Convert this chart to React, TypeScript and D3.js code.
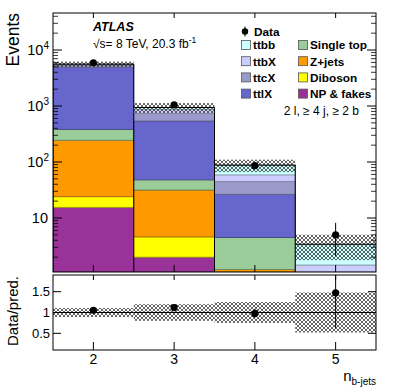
import * as d3 from 'd3';

// n_b-jets bins
const bins = [2, 3, 4, 5];

// stacked predictions, bottom to top
const npFakes = [15.5, 2.0, 0.5, 0.05];
const diboson = [8.5, 2.6, 0.3, 0.02];
const zJets = [221, 27, 0.4, 0.08];
const singleTop = [138, 16.4, 3.3, 0.25];
const ttlX = [4517, 492, 22, 0.45];
const ttcX = [500, 200, 18.5, 0.2];
const ttbX = [140, 130, 14, 0.4];
const ttbb = [60, 70, 29, 1.95];

// data and errors
const dataVals = [5900, 1050, 86, 5];
const dataErrUp = [77, 32, 9.3, 3.2];
const dataErrDown = [77, 32, 9.3, 2.9];
// relative uncertainty on the prediction (hatched band)
const relSyst = [0.11, 0.2, 0.25, 0.48];

const seriesKeys = ['NP & fakes', 'Diboson', 'Z+jets', 'Single top', 'ttlX', 'ttcX', 'ttbX', 'ttbb'];
const seriesVals = [npFakes, diboson, zJets, singleTop, ttlX, ttcX, ttbX, ttbb];
const seriesColors = ['#993399', '#ffff00', '#ff9900', '#99cc99', '#6666cc', '#9999cc', '#ccccff', '#ccffff'];

const legendCol1 = ['ttbb', 'ttbX', 'ttcX', 'ttlX'];
const legendCol2 = ['Single top', 'Z+jets', 'Diboson', 'NP & fakes'];

const mainTicks = [1, 2, 3, 4]; // exponents
const ratioTicks = [0.5, 1, 1.5];

const W = 407;
const H = 391;
const L = 53;
const R = 376;
const mainTop = 13;
const mainBot = 272;
const ratTop = 275;
const ratBot = 350;
const FONT = 'Liberation Sans, Arial, Helvetica, sans-serif';

const App = () => {
  const x = d3.scaleLinear().domain([1.5, 5.5]).range([L, R]);
  const y = d3.scaleLog().domain([1.086, 45800]).range([mainBot, mainTop]).clamp(true);
  const yr = d3.scaleLinear().domain([0.1, 1.9]).range([ratBot, ratTop]).clamp(true);

  const table = bins.map((b, i) => {
    const row: any = { bin: b };
    seriesKeys.forEach((k, j) => (row[k] = seriesVals[j][i]));
    return row;
  });
  const stacked = d3.stack().keys(seriesKeys)(table);
  const totals = bins.map((_, i) => d3.sum(seriesVals, (s) => s[i]));

  const bw = x(2.5) - x(1.5);
  const x0 = (b: number) => x(b - 0.5);

  // outline of the total
  const outline = d3.line<[number, number]>()
    .x((d) => d[0])
    .y((d) => d[1]);
  const outlinePts: [number, number][] = [];
  bins.forEach((b, i) => {
    outlinePts.push([x0(b), y(totals[i])]);
    outlinePts.push([x0(b) + bw, y(totals[i])]);
  });

  // minor ticks main panel
  const minor: number[] = [];
  for (let e = 0; e <= 4; e++) {
    for (let m = 2; m <= 9; m++) {
      const v = m * Math.pow(10, e);
      if (v > 1.086 && v < 45800) minor.push(v);
    }
  }

  const hatchBand = (lo: number[], hi: number[], sc: any) =>
    bins.map((b, i) => (
      <rect
        key={b}
        x={x0(b)}
        width={bw}
        y={sc(hi[i])}
        height={Math.max(0, sc(lo[i]) - sc(hi[i]))}
        fill="url(#xhatch)"
      />
    ));

  const ratio = bins.map((_, i) => dataVals[i] / totals[i]);

  return (
    <svg width={W} height={H} style={{ position: 'absolute', left: 0, top: 0, background: '#fff' }} fontFamily={FONT}>
      <defs>
        <pattern id="xhatch" width="4" height="4" patternUnits="userSpaceOnUse">
          <path d="M0,0L4,4M4,0L0,4" stroke="#333" strokeWidth="0.75" />
        </pattern>
        <clipPath id="mainClip">
          <rect x={L} y={mainTop} width={R - L} height={mainBot - mainTop} />
        </clipPath>
        <clipPath id="ratClip">
          <rect x={L} y={ratTop} width={R - L} height={ratBot - ratTop} />
        </clipPath>
      </defs>

      {/* main panel */}
      <g clipPath="url(#mainClip)">
        {stacked.map((s, j) => (
          <g key={s.key}>
            {s.map((d, i) => (
              <rect
                key={i}
                x={x0(bins[i])}
                width={bw}
                y={y(d[1])}
                height={Math.max(0, y(Math.max(d[0], 1e-3)) - y(d[1]))}
                fill={seriesColors[j]}
                stroke={d3.color(seriesColors[j])!.darker(1.3).formatHex()}
                strokeWidth={0.8}
              />
            ))}
          </g>
        ))}
        {hatchBand(
          totals.map((t, i) => t * (1 - relSyst[i])),
          totals.map((t, i) => t * (1 + relSyst[i])),
          y
        )}
        <path d={outline(outlinePts)!} fill="none" stroke="#000" strokeWidth={1} />
        {bins.map((b, i) => (
          <line key={b} x1={x0(b)} x2={x0(b)} y1={y(totals[i])} y2={mainBot} stroke="#000" strokeWidth={1} />
        ))}
        {bins.map((b, i) => (
          <g key={'d' + b}>
            <line
              x1={x(b)}
              x2={x(b)}
              y1={y(dataVals[i] + dataErrUp[i])}
              y2={y(dataVals[i] - dataErrDown[i])}
              stroke="#000"
              strokeWidth={1}
            />
            <circle cx={x(b)} cy={y(dataVals[i])} r={3.6} fill="#000" />
          </g>
        ))}
      </g>
      <rect x={L} y={mainTop} width={R - L} height={mainBot - mainTop} fill="none" stroke="#000" strokeWidth={1} />

      {/* main y ticks */}
      {mainTicks.map((e) => (
        <g key={e}>
          <line x1={L} x2={L + 9} y1={y(Math.pow(10, e))} y2={y(Math.pow(10, e))} stroke="#000" />
          <line x1={R} x2={R - 9} y1={y(Math.pow(10, e))} y2={y(Math.pow(10, e))} stroke="#000" />
          <text x={e === 1 ? 48 : 49} y={y(Math.pow(10, e)) + 5} textAnchor="end" fontSize={14.5}>
            10
            {e > 1 && (
              <tspan dy={-6} fontSize={10}>
                {e}
              </tspan>
            )}
          </text>
        </g>
      ))}
      {minor.map((v) => (
        <g key={v}>
          <line x1={L} x2={L + 5} y1={y(v)} y2={y(v)} stroke="#000" strokeWidth={0.8} />
          <line x1={R} x2={R - 5} y1={y(v)} y2={y(v)} stroke="#000" strokeWidth={0.8} />
        </g>
      ))}
      {bins.map((b) => (
        <g key={'xt' + b}>
          <line x1={x(b)} x2={x(b)} y1={mainBot} y2={mainBot - 7} stroke="#000" />
          <line x1={x(b)} x2={x(b)} y1={mainTop} y2={mainTop + 5} stroke="#000" />
        </g>
      ))}

      <text transform={`translate(19,${mainTop}) rotate(-90)`} textAnchor="end" fontSize={17.5}>
        Events
      </text>

      {/* labels */}
      <text x={93} y={31} fontSize={12.5} fontWeight="bold" fontStyle="italic">
        ATLAS
      </text>
      <text x={93} y={47.5} fontSize={12}>
        √s= 8 TeV, 20.3 fb
        <tspan dy={-5} fontSize={8.5}>
          -1
        </tspan>
      </text>

      {/* legend */}
      <g fontSize={11.8} fontWeight="bold">
        <line x1={245} x2={245} y1={26.5} y2={36.5} stroke="#000" />
        <circle cx={245} cy={31.5} r={3.2} fill="#000" />
        <text x={254} y={35.5}>
          Data
        </text>
        {legendCol1.map((lab, i) => {
          const j = seriesKeys.indexOf(lab);
          const cy = 45 + i * 16.2;
          return (
            <g key={lab}>
              <rect x={241.5} y={cy - 4.5} width={9} height={9} fill={seriesColors[j]} stroke="#555" strokeWidth={0.8} />
              <text x={253} y={cy + 4.3}>
                {lab}
              </text>
            </g>
          );
        })}
        {legendCol2.map((lab, i) => {
          const j = seriesKeys.indexOf(lab);
          const cy = 45 + i * 16.2;
          return (
            <g key={lab}>
              <rect x={298.5} y={cy - 4.5} width={9} height={9} fill={seriesColors[j]} stroke="#555" strokeWidth={0.8} />
              <text x={310} y={cy + 4.3}>
                {lab}
              </text>
            </g>
          );
        })}
      </g>
      <text x={359} y={114.5} textAnchor="end" fontSize={12}>
        2 l, ≥ 4 j, ≥ 2 b
      </text>

      {/* ratio panel */}
      <g clipPath="url(#ratClip)">
        {hatchBand(
          relSyst.map((r) => 1 - r),
          relSyst.map((r) => 1 + r),
          yr
        )}
        {bins.map((b) => (
          <line key={'one' + b} x1={x0(b)} x2={x0(b) + bw} y1={yr(1)} y2={yr(1)} stroke="#000" strokeWidth={1} />
        ))}
        {bins.map((b, i) => (
          <g key={'r' + b}>
            <line
              x1={x(b)}
              x2={x(b)}
              y1={yr(ratio[i] + dataErrUp[i] / totals[i])}
              y2={yr(ratio[i] - dataErrDown[i] / totals[i])}
              stroke="#000"
            />
            <circle cx={x(b)} cy={yr(ratio[i])} r={3.6} fill="#000" />
          </g>
        ))}
      </g>
      <rect x={L} y={ratTop} width={R - L} height={ratBot - ratTop} fill="none" stroke="#000" strokeWidth={1} />
      {ratioTicks.map((t) => (
        <g key={t}>
          <line x1={L} x2={L + 8} y1={yr(t)} y2={yr(t)} stroke="#000" />
          <line x1={R} x2={R - 8} y1={yr(t)} y2={yr(t)} stroke="#000" />
          <text x={50} y={yr(t) + 4.5} textAnchor="end" fontSize={13}>
            {t}
          </text>
        </g>
      ))}
      {bins.map((b) => (
        <g key={'rx' + b}>
          <line x1={x(b)} x2={x(b)} y1={ratBot} y2={ratBot - 8} stroke="#000" />
          <line x1={x(b)} x2={x(b)} y1={ratTop} y2={ratTop + 5} stroke="#000" />
          <text x={x(b)} y={364} textAnchor="middle" fontSize={14}>
            {b}
          </text>
        </g>
      ))}
      <text transform={`translate(18,${ratTop + 1}) rotate(-90)`} textAnchor="end" fontSize={15}>
        Data/pred.
      </text>
      <text x={R} y={381} textAnchor="end" fontSize={15}>
        n
        <tspan dy={4} fontSize={10}>
          b-jets
        </tspan>
      </text>
    </svg>
  );
};

export default App;
